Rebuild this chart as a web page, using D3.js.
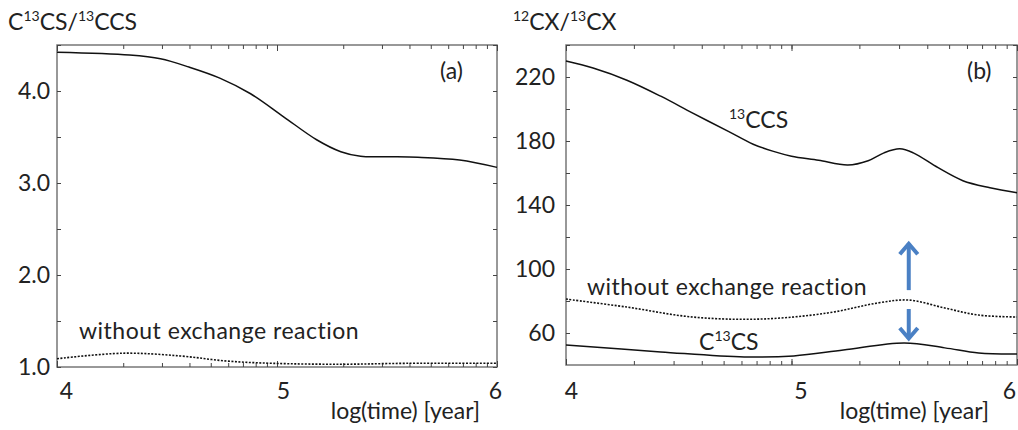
<!DOCTYPE html>
<html>
<head>
<meta charset="utf-8">
<script src="https://cdn.jsdelivr.net/npm/d3@7"></script>
<style>
  body { margin: 0; background: #fff; }
  svg text { font-family: Lato, "Open Sans", sans-serif; fill: #222; }
</style>
</head>
<body>
<svg id="chart" width="1018" height="430"></svg>
<script>
// panel (a): C13CS / 13CCS ratio
const timeA = [4.00, 4.33, 4.47, 4.60, 4.74, 4.88, 5.03, 5.18, 5.29, 5.38, 5.50, 5.64, 5.83, 6.00];
const ratioA = [4.42, 4.39, 4.35, 4.26, 4.14, 3.97, 3.72, 3.47, 3.34, 3.29, 3.285, 3.28, 3.25, 3.17];
const timeA0 = [4.00, 4.30, 4.56, 4.77, 4.98, 5.29, 5.59, 6.00];
const ratioA0 = [1.09, 1.15, 1.12, 1.065, 1.04, 1.03, 1.04, 1.04];

// panel (b): 12CX / 13CX
const timeCCS = [4.00, 4.12, 4.27, 4.42, 4.56, 4.72, 4.83, 4.92, 5.00, 5.12, 5.25, 5.34, 5.41, 5.48, 5.54, 5.65, 5.76, 5.88, 6.00];
const ratioCCS = [230, 225.6, 218, 208, 197.6, 186, 178, 173.5, 170.5, 168, 165, 167.7, 172.6, 175.1, 172.6, 163.3, 155.2, 150.8, 147.7];
const timeNoEx = [4.00, 4.27, 4.56, 4.86, 5.16, 5.38, 5.52, 5.68, 5.83, 6.00];
const ratioNoEx = [81.2, 76.2, 70, 68.7, 72.5, 78.7, 80.6, 75.6, 71.2, 70];
const timeCS = [4.00, 4.42, 4.79, 5.01, 5.23, 5.50, 5.68, 5.83, 6.00];
const ratioCS = [52.5, 48.2, 45, 45.7, 49.4, 53.8, 50.7, 47.5, 46.9];

// axis ticks
const xMajor = [4, 5, 6];
const yMajorA = [1, 2, 3, 4];
const yMinorA = [1.5, 2.5, 3.5, 4.5];
const yMajorB = [60, 100, 140, 180, 220];
const yMinorB = [80, 120, 160, 200, 240];

// arrow annotation in panel (b)
const arrowTime = 5.52;
const arrowUp = [86.8, 116.7];
const arrowDown = [75, 55.6];

const FS = 23;
const SUP = 14;
const svg = d3.select('#chart');

// log minor ticks: log10(k * 10^n)
function logTicks(lo, hi) {
    const t = [];
    for (let n = lo; n < hi; n++) {
        for (let k = 1; k < 10; k++) t.push(n + Math.log10(k));
    }
    t.push(hi);
    return t;
}

// parts: [text, isSuperscript]
function richText(parent, x, y, parts) {
    const t = parent.append('text').attr('x', x).attr('y', y).attr('font-size', FS);
    let raised = false;
    parts.forEach(([s, isSup]) => {
        const span = t.append('tspan').text(s);
        if (isSup && !raised) { span.attr('font-size', SUP).attr('dy', -9); raised = true; }
        else if (!isSup && raised) { span.attr('dy', 9); raised = false; }
    });
    return t;
}

function drawPanel(p) {
    const x = d3.scaleLinear().domain([4, 6]).range([p.left, p.right]);
    const y = d3.scaleLinear().domain(p.yDomain).range([p.bottom, p.top]);
    const g = svg.append('g');

    // frame
    g.append('rect')
        .attr('x', p.left).attr('y', p.top)
        .attr('width', p.right - p.left).attr('height', p.bottom - p.top)
        .attr('fill', 'none').attr('stroke', '#777').attr('stroke-width', 1.5);

    const minor = logTicks(4, 6);
    const yAll = p.yMajor.concat(p.yMinor);

    const axes = [
        [d3.axisBottom(x).tickValues(minor).tickSize(-4), `translate(0,${p.bottom})`],
        [d3.axisTop(x).tickValues(minor).tickSize(-4), `translate(0,${p.top})`],
        [d3.axisBottom(x).tickValues(xMajor).tickSize(-6), `translate(0,${p.bottom})`],
        [d3.axisTop(x).tickValues(xMajor).tickSize(-6), `translate(0,${p.top})`],
        [d3.axisLeft(y).tickValues(yAll).tickSize(-4), `translate(${p.left},0)`],
        [d3.axisRight(y).tickValues(yAll).tickSize(-4), `translate(${p.right},0)`]
    ];
    axes.forEach(([axis, tr]) => {
        const a = g.append('g').attr('transform', tr).call(axis.tickFormat(''));
        a.select('.domain').remove();
        a.selectAll('line').attr('stroke', '#444').attr('stroke-width', 1);
    });

    // x labels
    const xl = g.append('g').attr('transform', `translate(0,${p.bottom})`)
        .call(d3.axisBottom(x).tickValues(xMajor).tickSize(0).tickPadding(p.xPad).tickFormat(d3.format('d')));
    xl.select('.domain').remove();
    xl.selectAll('text').attr('font-size', FS).attr('font-family', null).attr('fill', null)
        .attr('dx', (d, i) => p.xShift[i]);

    // y labels
    const yl = g.append('g').attr('transform', `translate(${p.left},0)`)
        .call(d3.axisLeft(y).tickValues(p.yMajor).tickSize(0).tickPadding(p.yPad).tickFormat(p.yFormat));
    yl.select('.domain').remove();
    yl.selectAll('text').attr('font-size', FS).attr('font-family', null).attr('fill', null);

    const line = d3.line().x(d => x(d[0])).y(d => y(d[1])).curve(d3.curveCatmullRom.alpha(0.5));
    p.series.forEach(s => {
        g.append('path')
            .datum(d3.zip(s.t, s.v))
            .attr('d', line)
            .attr('fill', 'none')
            .attr('stroke', '#111')
            .attr('stroke-width', s.dashed ? 1.6 : 1.5)
            .attr('stroke-dasharray', s.dashed ? '2,1.5' : null);
    });

    g.append('text').attr('x', p.right - p.tagDx).attr('y', 79)
        .attr('font-size', FS).text(p.tag);

    g.append('text').attr('x', p.right - p.unitDx).attr('y', 419)
        .attr('text-anchor', 'end').attr('font-size', FS).text('log(time) [year]');

    return { x, y, g };
}

// panel (a)
const pa = drawPanel({
    left: 57, right: 497, top: 45, bottom: 367,
    yDomain: [1, 4.5], yMajor: yMajorA, yMinor: yMinorA,
    yFormat: d3.format('.1f'), yPad: 7, xPad: 16, xShift: [9, 6, -2],
    tag: '(a)', tagDx: 57, unitDx: 17,
    series: [
        { t: timeA, v: ratioA },
        { t: timeA0, v: ratioA0, dashed: true }
    ]
});
pa.g.append('text').attr('x', 79).attr('y', 339).attr('font-size', FS)
    .attr('letter-spacing', 0.5).text('without exchange reaction');

// panel (b)
const pb = drawPanel({
    left: 566, right: 1017, top: 45, bottom: 365,
    yDomain: [40, 240], yMajor: yMajorB, yMinor: yMinorB,
    yFormat: d3.format('d'), yPad: 11, xPad: 18, xShift: [5, 9, -8],
    tag: '(b)', tagDx: 50, unitDx: 28,
    series: [
        { t: timeCCS, v: ratioCCS },
        { t: timeNoEx, v: ratioNoEx, dashed: true },
        { t: timeCS, v: ratioCS }
    ]
});
pb.g.append('text').attr('x', 587).attr('y', 295).attr('font-size', FS)
    .attr('letter-spacing', 0.5).text('without exchange reaction');

richText(pb.g, 729, 128, [['13', true], ['CCS', false]]);
richText(pb.g, 699, 350, [['C', false], ['13', true], ['CS', false]]);

// blue arrows
const ax = pb.x(arrowTime);
function arrow(from, to) {
    const y0 = pb.y(from), y1 = pb.y(to);
    const dir = y1 < y0 ? 1 : -1;
    pb.g.append('line').attr('x1', ax).attr('x2', ax).attr('y1', y0).attr('y2', y1 + dir * 1)
        .attr('stroke', '#4a80c4').attr('stroke-width', 4);
    pb.g.append('path')
        .attr('d', `M${ax - 9},${y1 + dir * 12}L${ax},${y1 + dir * 1.5}L${ax + 9},${y1 + dir * 12}`)
        .attr('fill', 'none').attr('stroke', '#4a80c4').attr('stroke-width', 4)
        .attr('stroke-linejoin', 'miter');
}
arrow(arrowUp[0], arrowUp[1]);
arrow(arrowDown[0], arrowDown[1]);

// panel titles
richText(svg, 8, 30, [['C', false], ['13', true], ['CS/', false], ['13', true], ['CCS', false]]);
richText(svg, 513, 30, [['12', true], ['CX/', false], ['13', true], ['CX', false]]);
</script>
</body>
</html>
